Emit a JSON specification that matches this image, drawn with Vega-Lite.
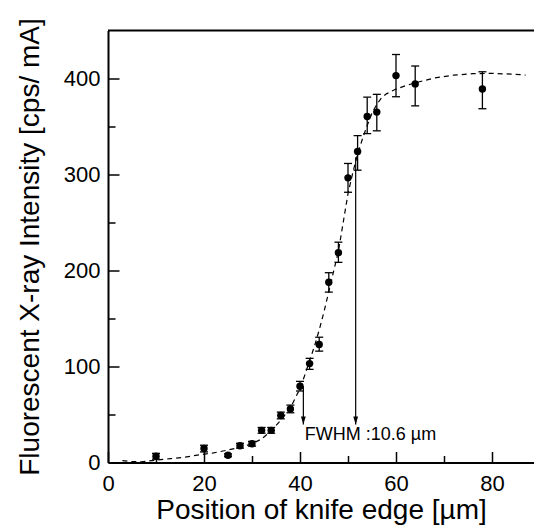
{
  "$schema": "https://vega.github.io/schema/vega-lite/v6.json",
  "width": 426,
  "height": 432,
  "autosize": {"type": "none"},
  "padding": {"left": 108, "top": 30.5, "right": 0, "bottom": 64.5},
  "background": "white",
  "config": {
    "view": {"stroke": null},
    "font": "Liberation Sans",
    "axis": {
      "grid": false,
      "domainColor": "black",
      "domainWidth": 2,
      "tickColor": "black",
      "tickWidth": 1.5,
      "labelColor": "black",
      "labelFontSize": 22,
      "labelFlush": false,
      "labelOverlap": false,
      "titleColor": "black",
      "titleFontSize": 28,
      "titleFontWeight": "normal"
    }
  },
  "datasets": {
    "points": [
      {"x": 10, "y": 6.5, "lo": 3.5, "hi": 9.5},
      {"x": 20, "y": 14.5, "lo": 11, "hi": 18},
      {"x": 25, "y": 7.5, "lo": 6, "hi": 9},
      {"x": 27.5, "y": 17.5, "lo": 15, "hi": 20},
      {"x": 30, "y": 19.5, "lo": 17, "hi": 22},
      {"x": 32, "y": 33.5, "lo": 30.5, "hi": 36.5},
      {"x": 34, "y": 33.5, "lo": 30.5, "hi": 36.5},
      {"x": 36, "y": 49, "lo": 45.5, "hi": 52.5},
      {"x": 38, "y": 55.8, "lo": 51.8, "hi": 59.8},
      {"x": 40, "y": 79.5, "lo": 74.5, "hi": 84.5},
      {"x": 42, "y": 103, "lo": 97, "hi": 108.5},
      {"x": 44, "y": 123, "lo": 116, "hi": 130.5},
      {"x": 46, "y": 187.7, "lo": 177.5, "hi": 197.7},
      {"x": 48, "y": 218.5, "lo": 208.5, "hi": 229.5},
      {"x": 50, "y": 296.5, "lo": 281.5, "hi": 311.5},
      {"x": 52, "y": 324, "lo": 304.5, "hi": 340.5},
      {"x": 54, "y": 360.5, "lo": 342.5, "hi": 380.5},
      {"x": 56, "y": 365, "lo": 345.5, "hi": 383.5},
      {"x": 60, "y": 403, "lo": 381, "hi": 425},
      {"x": 64, "y": 394.4, "lo": 371.5, "hi": 413},
      {"x": 78, "y": 389, "lo": 368.5, "hi": 407}
    ],
    "curve": [
      {"x": 3, "y": 2}, {"x": 5, "y": 1}, {"x": 7, "y": 0.8}, {"x": 10, "y": 2.5},
      {"x": 13, "y": 4}, {"x": 16, "y": 5.5}, {"x": 19, "y": 8}, {"x": 22, "y": 10},
      {"x": 25, "y": 13}, {"x": 28, "y": 16.5}, {"x": 30, "y": 19.5}, {"x": 32, "y": 24.5},
      {"x": 34, "y": 33}, {"x": 36, "y": 44}, {"x": 38, "y": 57}, {"x": 40, "y": 77},
      {"x": 41, "y": 91}, {"x": 42, "y": 106}, {"x": 43, "y": 121}, {"x": 44, "y": 138},
      {"x": 45, "y": 157}, {"x": 46, "y": 178}, {"x": 47, "y": 199}, {"x": 48, "y": 220},
      {"x": 49, "y": 250}, {"x": 50, "y": 280}, {"x": 51, "y": 302}, {"x": 52, "y": 321},
      {"x": 53, "y": 337}, {"x": 54, "y": 351}, {"x": 55, "y": 364}, {"x": 56, "y": 373},
      {"x": 57, "y": 380}, {"x": 58, "y": 384}, {"x": 60, "y": 389}, {"x": 62, "y": 392.5},
      {"x": 64, "y": 395.5}, {"x": 68, "y": 400.5}, {"x": 72, "y": 403.5}, {"x": 76, "y": 405},
      {"x": 80, "y": 405.3}, {"x": 84, "y": 404.6}, {"x": 87, "y": 403.6}
    ],
    "arrows": [
      {"x": 40.7, "top": 79.5, "tip": 39.6},
      {"x": 51.6, "top": 318, "tip": 39.6}
    ],
    "note": [
      {"x": 41, "y": 28.6, "text": "FWHM :10.6 µm"}
    ],
    "frame": [
      {"ytop": 450}
    ]
  },
  "layer": [
    {
      "data": {"name": "curve"},
      "mark": {"type": "line", "color": "black", "strokeWidth": 1.2, "strokeDash": [5, 4]},
      "encoding": {
        "x": {
          "field": "x", "type": "quantitative",
          "scale": {"domain": [0, 88.75], "nice": false, "zero": false},
          "axis": {
            "title": "Position of knife edge [µm]",
            "values": [0, 10, 20, 30, 40, 50, 60, 70, 80],
            "labelExpr": "datum.value % 20 === 0 ? datum.label : ''",
            "tickSize": {"condition": {"test": "datum.value % 20 === 0", "value": -11}, "value": -7},
            "labelPadding": 22,
            "titlePadding": -2
          }
        },
        "y": {
          "field": "y", "type": "quantitative",
          "scale": {"domain": [0, 450], "nice": false},
          "axis": {
            "title": "Fluorescent X-ray Intensity [cps/ mA]",
            "values": [0, 50, 100, 150, 200, 250, 300, 350, 400],
            "labelExpr": "datum.value % 100 === 0 ? datum.label : ''",
            "tickSize": {"condition": {"test": "datum.value % 100 === 0", "value": -11}, "value": -7},
            "labelPadding": 19,
            "titlePadding": 19
          }
        }
      }
    },
    {
      "data": {"name": "frame"},
      "mark": {"type": "rule", "color": "black", "strokeWidth": 2},
      "encoding": {"y": {"field": "ytop", "type": "quantitative"}}
    },
    {
      "data": {"name": "points"},
      "mark": {"type": "rule", "color": "black", "strokeWidth": 1.3},
      "encoding": {
        "x": {"field": "x", "type": "quantitative"},
        "y": {"field": "lo", "type": "quantitative"},
        "y2": {"field": "hi"}
      }
    },
    {
      "data": {"name": "points"},
      "mark": {"type": "tick", "orient": "horizontal", "color": "black", "size": 8, "thickness": 1.3, "opacity": 1},
      "encoding": {
        "x": {"field": "x", "type": "quantitative"},
        "y": {"field": "lo", "type": "quantitative"}
      }
    },
    {
      "data": {"name": "points"},
      "mark": {"type": "tick", "orient": "horizontal", "color": "black", "size": 8, "thickness": 1.3, "opacity": 1},
      "encoding": {
        "x": {"field": "x", "type": "quantitative"},
        "y": {"field": "hi", "type": "quantitative"}
      }
    },
    {
      "data": {"name": "points"},
      "mark": {"type": "point", "shape": "circle", "filled": true, "color": "black", "size": 55, "opacity": 1},
      "encoding": {
        "x": {"field": "x", "type": "quantitative"},
        "y": {"field": "y", "type": "quantitative"}
      }
    },
    {
      "data": {"name": "arrows"},
      "mark": {"type": "rule", "color": "black", "strokeWidth": 1.2},
      "encoding": {
        "x": {"field": "x", "type": "quantitative"},
        "y": {"field": "top", "type": "quantitative"},
        "y2": {"field": "tip"}
      }
    },
    {
      "data": {"name": "arrows"},
      "mark": {"type": "point", "shape": "M-0.6,-1L0.6,-1L0,1Z", "filled": true, "color": "black", "size": 64, "opacity": 1, "yOffset": -4},
      "encoding": {
        "x": {"field": "x", "type": "quantitative"},
        "y": {"field": "tip", "type": "quantitative"}
      }
    },
    {
      "data": {"name": "note"},
      "mark": {"type": "text", "align": "left", "baseline": "middle", "fontSize": 18, "color": "black"},
      "encoding": {
        "x": {"field": "x", "type": "quantitative"},
        "y": {"field": "y", "type": "quantitative"},
        "text": {"field": "text"}
      }
    }
  ]
}
